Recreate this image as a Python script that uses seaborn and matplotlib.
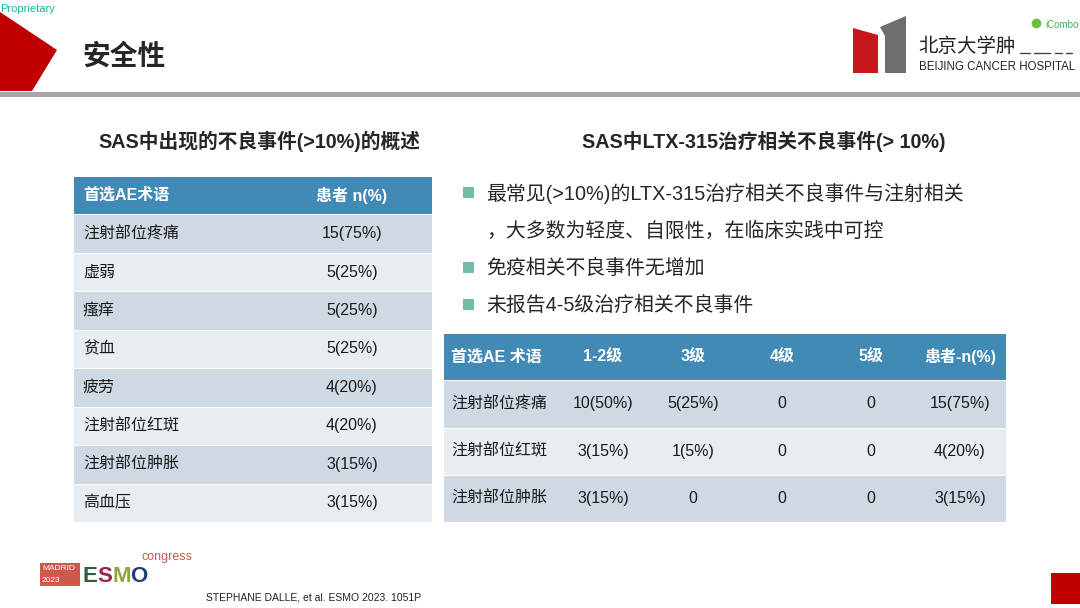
import numpy as np
import pandas as pd
import seaborn as sns
import matplotlib.pyplot as plt
from matplotlib.colors import ListedColormap
from matplotlib.patches import Polygon, Rectangle

#%% 数据

title = "安全性"
left_title = "SAS中出现的不良事件(>10%)的概述"
right_title = "SAS中LTX-315治疗相关不良事件(> 10%)"

left_header = ["首选AE术语", "患者 n(%)"]
left_terms = ["注射部位疼痛", "虚弱", "瘙痒", "贫血", "疲劳", "注射部位红斑", "注射部位肿胀", "高血压"]
left_n = ["15(75%)", "5(25%)", "5(25%)", "5(25%)", "4(20%)", "4(20%)", "3(15%)", "3(15%)"]

right_header = ["首选AE 术语", "1-2级", "3级", "4级", "5级", "患者-n(%)"]
right_terms = ["注射部位疼痛", "注射部位红斑", "注射部位肿胀"]
grade12 = ["10(50%)", "3(15%)", "3(15%)"]
grade3 = ["5(25%)", "1(5%)", "0"]
grade4 = ["0", "0", "0"]
grade5 = ["0", "0", "0"]
right_n = ["15(75%)", "4(20%)", "3(15%)"]

bullets = [["最常见(>10%)的LTX-315治疗相关不良事件与注射相关",
            "，大多数为轻度、自限性，在临床实践中可控"],
           ["免疫相关不良事件无增加"],
           ["未报告4-5级治疗相关不良事件"]]

#%% 样式

sns.set_theme(style='white')
FONT = ['Liberation Sans', 'Noto Sans CJK SC', 'DejaVu Sans']
plt.rcParams['font.family'] = FONT

HEAD = '#418AB6'
DARK = '#CFD9E3'
LIGHT = '#E8EDF2'
W, H = 1080, 608

fig = plt.figure(figsize=(10.8, 6.08), dpi=100)
bg = fig.add_axes([0, 0, 1, 1])
bg.set_xlim(0, W)
bg.set_ylim(H, 0)
bg.axis('off')


def px_axes(x0, y0, x1, y1):
    return fig.add_axes([x0 / W, 1 - y1 / H, (x1 - x0) / W, (y1 - y0) / H])


#%% 页眉

bg.add_patch(Polygon([(0, 12), (57, 50), (32, 91), (0, 91)], color='#C00000', lw=0))
bg.text(0, 9, "Proprietary", color='#1FB39A', fontsize=8, va='center', ha='left')
bg.text(82, 57, title, fontsize=20, fontweight='bold', va='center', ha='left')
bg.add_patch(Rectangle((0, 92), W, 5, color='#A6A6A6', lw=0))

# 医院标志
bg.add_patch(Polygon([(853, 28), (878, 35), (878, 73), (853, 73)], color='#C8161D', lw=0))
bg.add_patch(Polygon([(880, 27), (906, 16), (906, 73), (885, 73), (885, 36)], color='#6D6E71', lw=0))
bg.text(918, 47, "北京大学肿", fontsize=14, va='center', ha='left', color='#222222')
for xa, xb in [(1020, 1030), (1034, 1050), (1055, 1062), (1066, 1072)]:
    bg.plot([xa, xb], [53, 53], color='#444444', lw=1)
bg.text(919, 67, "BEIJING CANCER HOSPITAL", fontsize=8.3, va='center', ha='left', color='#222222')
bg.plot([1036], [23], marker='o', markersize=6, color='#6DBE45')
bg.text(1045, 25, "iCombo", fontsize=7, va='center', ha='left', color='#4CAF50')

#%% 小标题

bg.text(259, 141, left_title, fontsize=14.2, fontweight='bold', ha='center', va='center')
bg.text(764, 141, right_title, fontsize=14.2, fontweight='bold', ha='center', va='center')

#%% 要点

bullet_y = [193, 268, 305]
for y, lines in zip(bullet_y, bullets):
    bg.add_patch(Rectangle((463, y - 6), 11, 11, color='#76BAAA', lw=0))
    for i, line in enumerate(lines):
        bg.text(486, y + i * 38, line, fontsize=14.3, va='center', ha='left')

#%% 表格


def draw_table(x0, y0, x1, y1, n_rows, cells, col_pos, col_align):
    ax = px_axes(x0, y0, x1, y1)
    stripes = pd.DataFrame({'row': [0] + [1 + i % 2 for i in range(n_rows)]})
    sns.heatmap(stripes, ax=ax, cmap=ListedColormap([HEAD, DARK, LIGHT]), vmin=0, vmax=2,
                cbar=False, linewidths=0.6, linecolor='white', xticklabels=False, yticklabels=False)
    width = x1 - x0
    for r, row in enumerate(cells):
        for c, val in enumerate(row):
            ax.text((col_pos[c] - x0) / width, r + 0.5, val, ha=col_align[c], va='center',
                    fontsize=11.5, color='white' if r == 0 else '#1A1A1A',
                    fontweight='bold' if r == 0 else 'normal')
    ax.set_xlabel('')
    ax.set_ylabel('')
    return ax


left_cells = [left_header] + [[t, n] for t, n in zip(left_terms, left_n)]
draw_table(73, 176, 432, 522, len(left_terms), left_cells, [83, 352], ['left', 'center'])

right_cells = [right_header] + [list(r) for r in zip(right_terms, grade12, grade3, grade4, grade5, right_n)]
draw_table(443, 333, 1006, 522, len(right_terms), right_cells,
           [451, 603, 693, 782, 871, 960], ['left', 'center', 'center', 'center', 'center', 'center'])

#%% 页脚

bg.add_patch(Rectangle((40, 563), 40, 23, color='#D0584B', lw=0))
bg.text(42, 569, "MADRID", fontsize=6, color='white', va='center', ha='left')
bg.text(42, 580, "2023", fontsize=6, color='white', va='center', ha='left')
for x, ch, col in [(82, "E", '#2E5E3E'), (97, "S", '#A0204E'), (112, "M", '#8FA63A'), (130, "O", '#1F3D73')]:
    bg.text(x, 576, ch, fontsize=16, fontweight='bold', color=col, va='center', ha='left')
bg.text(142, 557, "congress", fontsize=9, color='#D0584B', va='center', ha='left')
bg.text(206, 597, "STEPHANE DALLE, et al. ESMO 2023. 1051P", fontsize=7.5, color='#222222',
        va='center', ha='left')
bg.add_patch(Rectangle((1051, 573), 29, 31, color='#C00000', lw=0))

fig.savefig("out.png", dpi=100)
